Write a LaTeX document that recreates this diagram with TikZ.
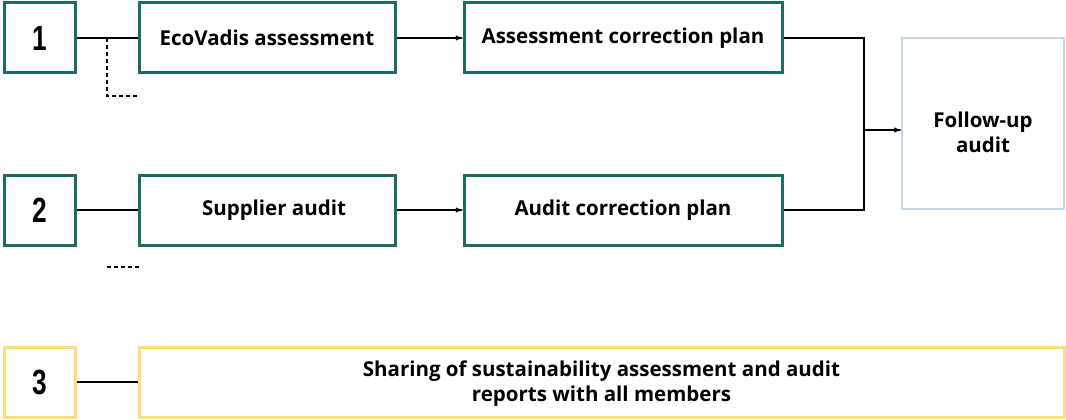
\documentclass[tikz,border=0pt]{standalone}
\usepackage{fontspec}
\setmainfont{Open Sans}
\newfontfamily\numfont[FakeStretch=0.75]{Liberation Sans}
\usepackage{tikz}
\usetikzlibrary{calc}
\usetikzlibrary{arrows.meta}

\definecolor{teal1}{HTML}{1E6B65}
\definecolor{gold1}{HTML}{FBDF7E}
\definecolor{sky1}{HTML}{C3D6E6}

\tikzset{
  numbox/.style={draw=#1, line width=3pt, minimum width=71pt, minimum height=70pt,
    inner sep=0pt, font=\numfont\bfseries\fontsize{35}{35}\selectfont},
  stepbox/.style={draw=#1, line width=3pt, minimum height=70pt, inner sep=0pt,
    align=center, font=\bfseries\fontsize{20.5}{25}\selectfont},
  link/.style={black, line width=1.3pt},
}

\begin{document}
\begin{tikzpicture}[x=1pt, y=-1pt]
\useasboundingbox (0,0) rectangle (1066,420);

% row one
\node[numbox=teal1] (n1) at (39.5,38) {1};
\node[stepbox=teal1, minimum width=256pt] (eco) at (267,38) {EcoVadis assessment};
\node[stepbox=teal1, minimum width=318pt] (acp) at (623,38) {Assessment correction plan};

% row two
\node[numbox=teal1] (n2) at (39.5,210) {2};
\node[stepbox=teal1, minimum width=256pt] (sup) at (267,210) {\hspace{14pt}Supplier audit};
\node[stepbox=teal1, minimum width=318pt] (aud) at (623,210) {Audit correction plan};

% row three
\node[numbox=gold1] (n3) at (39.5,382) {3};
\node[stepbox=gold1, minimum width=925pt] (shr) at (601.5,382)
  {\rule{0pt}{18pt}Sharing of sustainability assessment and audit\\reports with all members};

% follow-up
\node[draw=sky1, line width=2pt, minimum width=162pt, minimum height=171pt,
  align=center, font=\bfseries\fontsize{20.5}{25}\selectfont] (fol) at (983,123.5)
  {\rule{0pt}{33pt}Follow-up\\audit};

% connectors
\draw[link] (n1) -- (eco);
\draw[link] (n2) -- (sup);
\draw[link] (n3) -- (shr);
\draw[link,-{>[length=7,width=5]}] (eco) -- (acp);
\draw[link,-{>[length=7,width=5]}] (sup) -- (aud);

\coordinate (d1) at ($(n1.east)!0.5!(eco.west)$);
\draw[link, dash pattern=on 4pt off 3pt] (d1) |- ++(32,58);
\coordinate (d2) at ($(n2.east)!0.5!(sup.west)$);
\draw[link, dash pattern=on 4pt off 3pt] ($(d2)+(0,57)$) -- ++(32,0);

\coordinate (j) at (864,130);
\draw[link] (acp.east) -| (j);
\draw[link] (aud.east) -| (j);
\draw[link,-{>[length=7,width=5]}] (j) -- (j -| fol.west);
\end{tikzpicture}
\end{document}
